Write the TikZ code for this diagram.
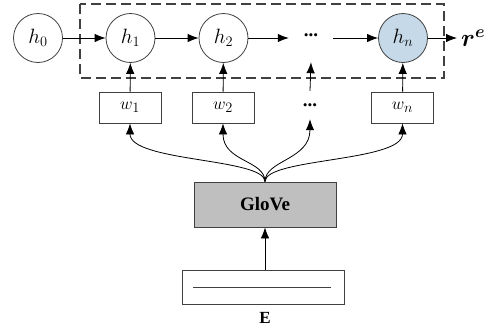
\documentclass[tikz,border=0pt]{standalone}
\usepackage{amsmath}
\usepackage{fontspec}
\newfontfamily\timesfont{Liberation Serif}
\usetikzlibrary{arrows.meta}
\definecolor{edgegray}{HTML}{404040}
\definecolor{hidblue}{HTML}{C5D9E8}
\definecolor{glovegray}{HTML}{BFBFBF}
\tikzset{
  state/.style={circle, draw=edgegray, line width=0.8pt, minimum size=49pt, inner sep=0pt,
    font=\fontsize{21}{23}\selectfont},
  wordbox/.style={rectangle, draw=edgegray, line width=0.8pt, minimum width=62pt, minimum height=31pt,
    inner sep=0pt, font=\fontsize{19}{21}\selectfont},
  dotsnode/.style={inner sep=0pt, font=\timesfont\bfseries\fontsize{19}{19}\selectfont},
  flow/.style={draw=black, line width=0.8pt, -{Latex[length=11pt,width=8.5pt]}},
}
\begin{document}
\begin{tikzpicture}[x=1pt, y=-1pt]
  \useasboundingbox (0,0) rectangle (493,327);

  % recurrent chain
  \node[state] (h0) at (38,38) {$h_0$};
  \node[state] (h1) at (130.5,38) {$h_1$};
  \node[state] (h2) at (223.5,38) {$h_2$};
  \node[dotsnode, minimum width=44pt, minimum height=54pt] (dtop) at (311,35) {...};
  \node[state, fill=hidblue] (hn) at (403,38) {$h_n$};
  \node[anchor=west, inner sep=4pt, font=\fontsize{25}{27}\selectfont] (re) at (457,38) {$\boldsymbol{r}^{\boldsymbol{e}}$};

  % encoder frame
  \draw[edgegray, line width=1.5pt, dash pattern=on 10pt off 5pt] (80,4) rectangle (444,78);

  \draw[flow] (h0) -- (h1);
  \draw[flow] (h1) -- (h2);
  \draw[flow] (h2.east) -- (dtop.west |- h2.east);
  \draw[flow] (dtop.east |- hn.west) -- (hn.west);
  \draw[flow] (hn) -- (hn.east -| re.west);

  % word inputs
  \node[wordbox] (w1) at (130,107.5) {$w_1$};
  \node[wordbox] (w2) at (223,107.5) {$w_2$};
  \node[dotsnode, minimum height=28pt, minimum width=20pt] (dmid) at (310,105) {...};
  \node[wordbox] (wn) at (402.5,107.5) {$w_n$};

  \draw[flow] (w1) -- (h1);
  \draw[flow] (w2) -- (h2);
  \draw[flow] (dmid.north) -- (dtop.south);
  \draw[flow] (wn) -- (hn);

  % embedding layer
  \node[rectangle, draw=edgegray, fill=glovegray, line width=0.8pt, minimum width=142pt, minimum height=45pt,
        font=\timesfont\bfseries\fontsize{19}{21}\selectfont] (glove) at (265,204.5) {GloVe};

  \draw[flow] (glove.north) .. controls (265,158) and (130,162) .. (w1.south);
  \draw[flow] (glove.north) .. controls (265,160) and (223,162) .. (w2.south);
  \draw[flow] (glove.north) .. controls (265,160) and (310,160) .. (dmid.south);
  \draw[flow] (glove.north) .. controls (265,158) and (402.5,162) .. (wn.south);

  % entity input
  \node[rectangle, draw=edgegray, line width=0.8pt, minimum width=162pt, minimum height=34pt] (ebox) at (263,287) {};
  \draw[edgegray, line width=0.6pt] (193,287) -- (331,287);
  \node[font=\timesfont\bfseries\fontsize{17}{19}\selectfont] (elabel) at (265,318) {E};

  \draw[flow] (ebox.north -| glove.south) -- (glove.south);
\end{tikzpicture}
\end{document}
